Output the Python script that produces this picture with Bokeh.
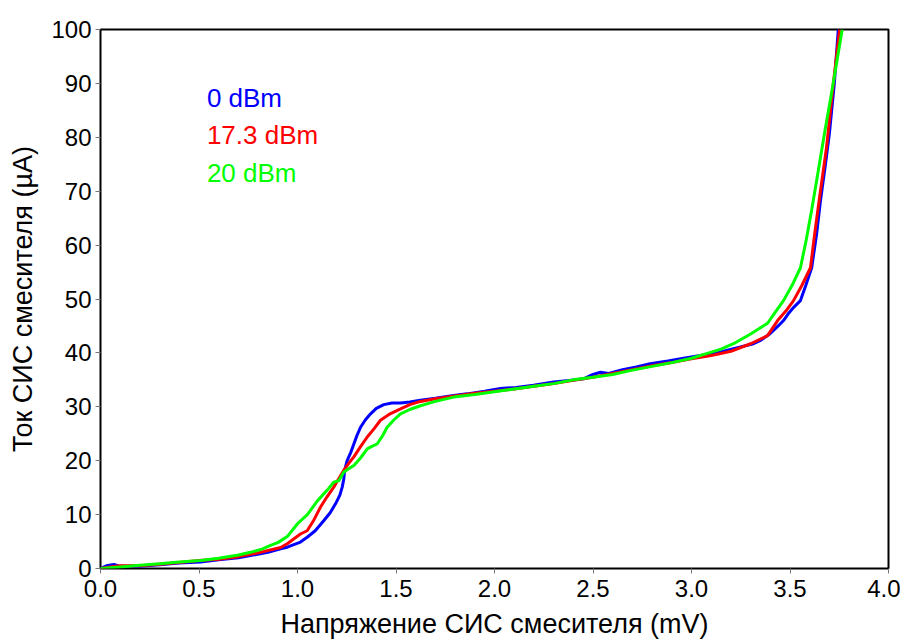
from bokeh.plotting import figure
from bokeh.models import Label, FixedTicker, CustomJSTickFormatter, Range1d
from bokeh.embed import file_html
from bokeh.resources import INLINE

# ---- data ----
v_0dbm = [0, 0.03, 0.068, 0.1, 0.2, 0.3, 0.4, 0.508, 0.6, 0.7, 0.761, 0.85, 0.914, 0.948,
          1.015, 1.049, 1.09, 1.134, 1.165, 1.193, 1.215, 1.227, 1.235, 1.239, 1.252, 1.27,
          1.286, 1.30, 1.32, 1.345, 1.371, 1.40, 1.438, 1.48, 1.523, 1.57, 1.624, 1.70, 1.793,
          1.861, 1.95, 2.03, 2.11, 2.198, 2.30, 2.38, 2.452, 2.50, 2.538, 2.58, 2.65, 2.72,
          2.79, 2.88, 2.96, 3.046, 3.13, 3.213, 3.315, 3.35, 3.40, 3.44, 3.467, 3.49, 3.52,
          3.553, 3.58, 3.61, 3.635, 3.655, 3.68, 3.70, 3.725, 3.745]
i_0dbm = [0, 0.5, 0.75, 0.4, 0.4, 0.7, 1.0, 1.2, 1.6, 2.0, 2.4, 3.0, 3.65, 3.95,
          4.9, 5.8, 7.0, 8.9, 10.3, 12.0, 13.6, 15.1, 16.6, 18.2, 20.0, 21.5,
          23.1, 24.5, 26.2, 27.6, 28.7, 29.7, 30.4, 30.7, 30.7, 30.9, 31.2, 31.6, 32.1,
          32.4, 32.9, 33.4, 33.6, 34.0, 34.6, 34.9, 35.2, 36.0, 36.4, 36.2, 36.9, 37.4,
          38.0, 38.5, 39.0, 39.5, 40.0, 40.8, 41.7, 42.3, 43.6, 45.0, 46.0, 47.2, 48.5,
          49.7, 52.5, 55.8, 62.0, 68.3, 75.0, 80.7, 90.0, 100.0]

v_173dbm = [0, 0.05, 0.1, 0.2, 0.3, 0.4, 0.5, 0.6, 0.7, 0.8, 0.914, 0.948, 1.015, 1.049,
            1.08, 1.117, 1.15, 1.184, 1.21, 1.235, 1.26, 1.286, 1.32, 1.354, 1.39, 1.421,
            1.47, 1.523, 1.57, 1.624, 1.70, 1.80, 1.90, 2.0, 2.1, 2.2, 2.3, 2.4, 2.5, 2.6,
            2.7, 2.8, 2.9, 3.0, 3.1, 3.2, 3.30, 3.386, 3.437, 3.48, 3.518, 3.56, 3.604,
            3.625, 3.648, 3.685, 3.72, 3.752]
i_173dbm = [0, 0.3, 0.5, 0.5, 0.8, 1.1, 1.5, 1.7, 2.2, 2.9, 3.9, 4.6, 6.4, 7.0,
            8.8, 11.4, 13.3, 15.1, 16.7, 18.2, 19.5, 20.7, 22.6, 24.4, 26.0, 27.5,
            28.7, 29.6, 30.4, 31.0, 31.5, 32.0, 32.5, 32.9, 33.3, 33.8, 34.3, 34.9, 35.5, 36.2,
            36.9, 37.6, 38.2, 38.9, 39.5, 40.3, 41.7, 43.2, 46.0, 47.8, 49.7, 52.5, 55.8,
            62.0, 68.3, 78.0, 90.0, 100.0]

v_20dbm = [0, 0.1, 0.2, 0.3, 0.4, 0.508, 0.6, 0.7, 0.761, 0.82, 0.863, 0.9, 0.95, 1.0,
           1.05, 1.1, 1.15, 1.184, 1.21, 1.235, 1.26, 1.286, 1.32, 1.354, 1.38, 1.404,
           1.43, 1.455, 1.49, 1.523, 1.57, 1.624, 1.70, 1.793, 1.9, 2.0, 2.1, 2.2, 2.3,
           2.4, 2.5, 2.6, 2.7, 2.8, 2.9, 3.0, 3.08, 3.15, 3.213, 3.30, 3.386, 3.43, 3.467,
           3.51, 3.553, 3.58, 3.61, 3.64, 3.675, 3.71, 3.765]
i_20dbm = [0, 0.3, 0.6, 0.9, 1.2, 1.5, 1.9, 2.5, 3.0, 3.6, 4.3, 4.8, 6.0, 8.3,
           10.0, 12.5, 14.5, 16.0, 16.3, 17.9, 18.5, 19.1, 20.5, 22.2, 22.7, 23.1,
           24.5, 26.2, 27.6, 28.7, 29.5, 30.2, 31.0, 31.8, 32.3, 32.8, 33.3, 33.8, 34.3,
           35.0, 35.5, 36.0, 36.8, 37.5, 38.2, 39.0, 39.9, 40.7, 41.7, 43.5, 45.5, 47.8, 49.7,
           52.5, 55.8, 60.5, 66.5, 73.0, 80.7, 88.0, 100.0]

series_labels = ["0 dBm", "17.3 dBm", "20 dBm"]
series_colors = ["#0000FF", "#FF0000", "#00FF00"]
x_ticks = [0.0, 0.5, 1.0, 1.5, 2.0, 2.5, 3.0, 3.5, 4.0]
y_ticks = [0, 10, 20, 30, 40, 50, 60, 70, 80, 90, 100]
x_label = "Напряжение СИС смесителя (mV)"
y_label = "Ток СИС смесителя (µA)"

FONT = "Liberation Sans"

p = figure(width=900, height=643, output_backend="svg", toolbar_location=None,
           x_range=Range1d(0, 4), y_range=Range1d(0, 100),
           min_border_left=100, min_border_right=12, min_border_top=29, min_border_bottom=75)

p.outline_line_color = "black"
p.outline_line_width = 2
p.background_fill_color = "white"
p.border_fill_color = "white"
p.xgrid.visible = False
p.ygrid.visible = False

for ax in (p.xaxis[0], p.yaxis[0]):
    ax.axis_line_color = None
    ax.major_tick_line_color = "#777777"
    ax.major_tick_line_width = 1
    ax.major_tick_in = 0
    ax.major_tick_out = 5
    ax.minor_tick_line_color = None
    ax.major_label_text_font = FONT
    ax.major_label_text_font_size = "24px"
    ax.major_label_text_color = "black"
    ax.axis_label_text_font = FONT
    ax.axis_label_text_font_size = "27px"
    ax.axis_label_text_font_style = "normal"
    ax.axis_label_text_color = "black"

p.xaxis[0].ticker = FixedTicker(ticks=x_ticks)
p.yaxis[0].ticker = FixedTicker(ticks=y_ticks)
p.xaxis[0].formatter = CustomJSTickFormatter(code="return tick.toFixed(1);")
p.xaxis[0].axis_label = x_label
p.yaxis[0].axis_label = y_label
p.xaxis[0].major_label_standoff = 6
p.xaxis[0].axis_label_standoff = 9
p.yaxis[0].major_label_standoff = 4
p.yaxis[0].axis_label_standoff = 10

data = [(v_0dbm, i_0dbm), (v_173dbm, i_173dbm), (v_20dbm, i_20dbm)]
for (vx, iy), col in zip(data, series_colors):
    p.line(vx, iy, line_color=col, line_width=3)

label_x = 0.54
label_y = [87.2, 80.5, 73.3]
for txt, col, ly in zip(series_labels, series_colors, label_y):
    p.add_layout(Label(x=label_x, y=ly, text=txt, text_color=col,
                       text_font=FONT, text_font_size="26px",
                       text_baseline="middle", text_align="left"))

open("out.html", "w").write(file_html(p, INLINE))
